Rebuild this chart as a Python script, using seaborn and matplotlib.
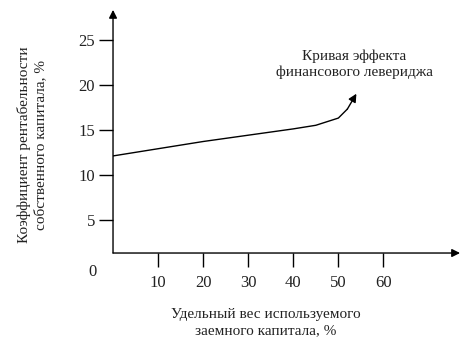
import matplotlib
matplotlib.use("Agg")
import matplotlib.pyplot as plt
import seaborn as sns
import pandas as pd

# Data
debt_share = [0, 10, 20, 30, 40, 45, 50, 52]
roe = [12.1, 12.9, 13.7, 14.4, 15.1, 15.5, 16.3, 17.3]
arrow_tip = (54, 19.0)
x_ticks = [10, 20, 30, 40, 50, 60]
y_ticks = [5, 10, 15, 20, 25]
curve_label = "Кривая эффекта\nфинансового левериджа"
x_label = "Удельный вес используемого\nзаемного капитала, %"
y_label = "Коэффициент рентабельности\nсобственного капитала, %"

sns.set_style("white")
plt.rcParams["font.family"] = ["Liberation Serif", "DejaVu Serif"]

fig = plt.figure(figsize=(4.68, 3.41), dpi=100)
ax = fig.add_axes([0.2415, 0.258, 0.983 - 0.2415, 0.971 - 0.258])

df = pd.DataFrame({"x": debt_share, "y": roe})
sns.lineplot(data=df, x="x", y="y", ax=ax, color="black", lw=1.0)
ax.annotate("", xy=arrow_tip, xytext=(debt_share[-1], roe[-1]),
            arrowprops=dict(arrowstyle="-|>", color="black", lw=1.0,
                            mutation_scale=12, shrinkA=0, shrinkB=0))

ax.set_xlim(0, 77)
ax.set_ylim(1.33, 28.3)
for s in ax.spines.values():
    s.set_visible(False)

# axes with arrowheads
ax.annotate("", xy=(0, 1), xytext=(0, 0), xycoords="axes fraction",
            arrowprops=dict(arrowstyle="-|>", color="black", lw=1.0,
                            mutation_scale=12, shrinkA=0, shrinkB=0))
ax.annotate("", xy=(1, 0), xytext=(0, 0), xycoords="axes fraction",
            arrowprops=dict(arrowstyle="-|>", color="black", lw=1.0,
                            mutation_scale=12, shrinkA=0, shrinkB=0))

ax.set_xticks(x_ticks)
ax.set_xticklabels([str(t) for t in x_ticks])
ax.set_yticks(y_ticks)
ax.set_yticklabels([str(t) for t in y_ticks])
ax.tick_params(axis="both", direction="out", length=10, width=1.0,
               color="black", labelsize=12, labelcolor="#222222",
               bottom=True, left=True)
ax.tick_params(axis="x", pad=6)
ax.tick_params(axis="y", pad=3)

ax.text(-0.06, -0.078, "0", transform=ax.transAxes, fontsize=12,
        ha="center", va="center", color="#222222")

ax.set_xlabel(x_label, fontsize=11, color="#222222", linespacing=1.3)
ax.set_ylabel(y_label, fontsize=11, color="#222222", linespacing=1.3)
ax.xaxis.set_label_coords(0.44, -0.225)
ax.yaxis.set_label_coords(-0.19, 0.444)

ax.text(53.5, 22.3, curve_label, fontsize=11, ha="center", va="center",
        color="#222222", linespacing=1.25)

fig.savefig("out.png", dpi=100)
